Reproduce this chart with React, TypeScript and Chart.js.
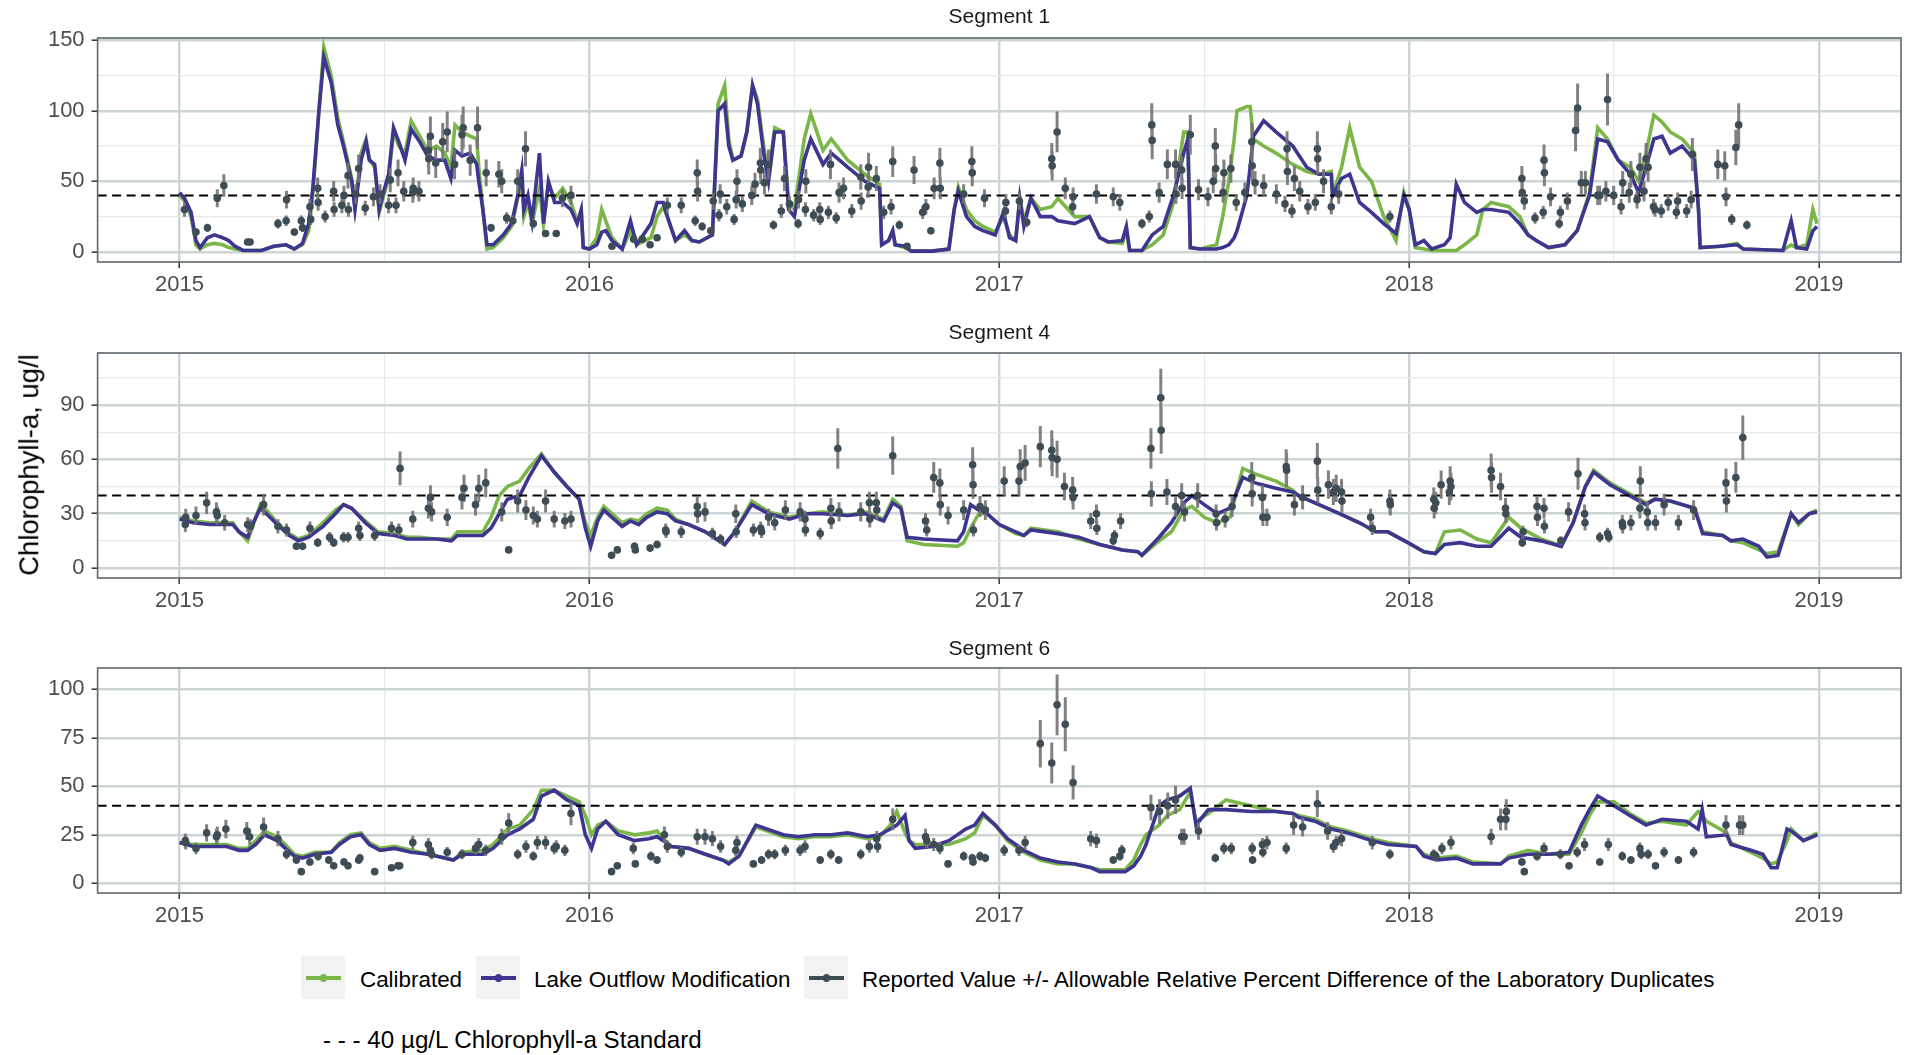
import React, { useEffect, useRef } from "react";
import { Chart, registerables } from "chart.js";

Chart.register(...registerables);

const FONT = "'Liberation Sans', Arial, Helvetica, sans-serif";
const GREEN = "#7ab648";
const PURPLE = "#3d3590";
const SLATE = "#3e4c55";
const ERRCOL = "rgba(115,115,115,0.9)";
const X_MIN = 2014.8;
const X_MAX = 2019.2;
const STANDARD = 40;
const RPD = 0.17; // allowable relative percent difference of lab duplicates

const xTicks = [2015, 2015.5, 2016, 2016.5, 2017, 2017.5, 2018, 2018.5, 2019];

// ---------------- Segment 1 ----------------
const seg1Time = [2015.000,2015.012,2015.028,2015.040,2015.050,2015.068,2015.085,2015.105,2015.120,2015.135,2015.155,2015.200,2015.230,2015.260,2015.280,2015.300,2015.315,2015.325,2015.340,2015.352,2015.370,2015.386,2015.400,2015.420,2015.428,2015.443,2015.455,2015.463,2015.476,2015.487,2015.500,2015.510,2015.522,2015.535,2015.550,2015.565,2015.586,2015.605,2015.627,2015.647,2015.662,2015.672,2015.689,2015.709,2015.725,2015.730,2015.740,2015.750,2015.765,2015.790,2015.810,2015.825,2015.835,2015.840,2015.850,2015.860,2015.878,2015.888,2015.900,2015.915,2015.935,2015.955,2015.970,2015.980,2015.985,2016.000,2016.018,2016.030,2016.040,2016.055,2016.080,2016.100,2016.115,2016.150,2016.165,2016.180,2016.190,2016.210,2016.232,2016.250,2016.268,2016.300,2016.314,2016.330,2016.340,2016.350,2016.370,2016.384,2016.398,2016.410,2016.425,2016.437,2016.452,2016.473,2016.486,2016.500,2016.524,2016.540,2016.570,2016.590,2016.630,2016.672,2016.708,2016.713,2016.730,2016.740,2016.746,2016.770,2016.785,2016.836,2016.877,2016.890,2016.900,2016.920,2016.940,2016.960,2016.990,2017.010,2017.025,2017.040,2017.050,2017.060,2017.077,2017.100,2017.128,2017.143,2017.184,2017.220,2017.245,2017.266,2017.300,2017.310,2017.318,2017.348,2017.373,2017.400,2017.425,2017.450,2017.460,2017.466,2017.490,2017.530,2017.545,2017.560,2017.573,2017.580,2017.604,2017.612,2017.620,2017.645,2017.675,2017.716,2017.750,2017.780,2017.810,2017.813,2017.835,2017.855,2017.879,2017.908,2017.938,2017.968,2017.987,2018.000,2018.015,2018.036,2018.055,2018.086,2018.100,2018.115,2018.135,2018.165,2018.180,2018.200,2018.243,2018.270,2018.290,2018.310,2018.340,2018.380,2018.410,2018.440,2018.460,2018.484,2018.510,2018.540,2018.560,2018.578,2018.597,2018.617,2018.637,2018.666,2018.696,2018.706,2018.710,2018.760,2018.800,2018.815,2018.912,2018.932,2018.945,2018.970,2018.985,2018.995];
const seg1Modified = [42,38,28,8,3,10,12,10,8,4,1,1,4,5,2,6,20,45,100,138,120,90,75,50,30,65,78,65,62,30,45,55,88,78,65,87,78,68,65,65,52,72,68,70,62,50,30,5,5,12,20,40,58,30,40,22,70,20,50,35,35,30,20,30,3,2,5,14,15,8,2,22,5,20,35,35,25,8,15,8,7,12,100,105,75,65,68,85,118,105,70,50,85,85,30,25,65,80,62,70,60,50,45,5,8,15,5,4,0.5,0.5,2,30,43,25,18,15,12,28,10,8,38,18,38,25,25,22,20,25,10,7,8,18,1,1,12,18,40,70,80,3,2,2,3,5,10,15,40,60,82,93,85,75,60,55,55,40,52,55,35,28,20,13,40,30,5,8,2,5,10,48,35,28,30,30,28,20,12,8,3,5,15,40,80,78,65,55,42,60,80,82,70,75,65,30,3,4,5,2,1,22,3,2,15,18];
const seg1Calibrated = [40,36,25,5,2,5,6,5,3,2,1,1,4,5,2,5,15,40,100,145,125,95,78,52,32,70,80,66,60,28,42,52,85,75,70,93,82,72,75,70,60,90,85,82,80,60,30,2,3,10,18,38,50,25,35,20,45,20,48,38,45,35,22,28,3,2,10,30,22,10,2,15,5,10,25,32,25,8,12,8,7,12,105,118,80,65,68,85,118,108,75,55,88,85,35,30,80,98,72,80,65,55,48,5,8,15,5,3,0.5,0.5,2,30,46,30,22,18,14,25,12,8,38,22,38,30,32,38,25,25,10,7,6,15,1,1,5,12,35,85,85,3,2,5,25,50,80,100,103,103,80,75,70,62,57,55,57,40,60,88,60,50,25,8,42,30,3,2,1,1,1,1,5,12,30,35,32,25,12,8,3,5,15,42,88,80,65,60,50,70,97,92,85,80,70,30,3,4,6,2,1,5,3,5,30,20];
const seg1ObsTime = [2015.012,2015.040,2015.068,2015.092,2015.108,2015.166,2015.172,2015.240,2015.260,2015.261,2015.280,2015.297,2015.300,2015.318,2015.320,2015.337,2015.338,2015.355,2015.376,2015.377,2015.396,2015.401,2015.411,2015.412,2015.430,2015.437,2015.453,2015.473,2015.489,2015.510,2015.514,2015.528,2015.533,2015.547,2015.569,2015.570,2015.584,2015.607,2015.608,2015.612,2015.625,2015.642,2015.653,2015.671,2015.689,2015.692,2015.709,2015.727,2015.748,2015.760,2015.779,2015.786,2015.798,2015.813,2015.825,2015.844,2015.863,2015.893,2015.919,2015.934,2015.955,2016.055,2016.108,2016.129,2016.148,2016.165,2016.190,2016.224,2016.258,2016.263,2016.264,2016.275,2016.296,2016.302,2016.316,2016.319,2016.335,2016.353,2016.358,2016.360,2016.373,2016.396,2016.404,2016.417,2016.418,2016.427,2016.437,2016.449,2016.468,2016.476,2016.488,2016.509,2016.510,2016.527,2016.528,2016.547,2016.562,2016.563,2016.583,2016.588,2016.602,2016.609,2016.620,2016.640,2016.662,2016.663,2016.680,2016.681,2016.700,2016.718,2016.736,2016.740,2016.756,2016.775,2016.792,2016.813,2016.821,2016.833,2016.841,2016.855,2016.856,2016.913,2016.933,2016.934,2016.964,2017.015,2017.016,2017.049,2017.067,2017.128,2017.129,2017.141,2017.161,2017.179,2017.180,2017.237,2017.278,2017.294,2017.348,2017.366,2017.372,2017.373,2017.390,2017.410,2017.430,2017.431,2017.445,2017.446,2017.466,2017.486,2017.509,2017.522,2017.527,2017.528,2017.546,2017.548,2017.565,2017.578,2017.599,2017.616,2017.617,2017.624,2017.645,2017.676,2017.697,2017.702,2017.703,2017.714,2017.720,2017.733,2017.753,2017.771,2017.776,2017.777,2017.791,2017.810,2017.828,2017.953,2018.275,2018.276,2018.281,2018.307,2018.327,2018.329,2018.330,2018.345,2018.366,2018.369,2018.386,2018.406,2018.411,2018.420,2018.430,2018.460,2018.465,2018.480,2018.484,2018.499,2018.517,2018.521,2018.537,2018.541,2018.556,2018.563,2018.573,2018.578,2018.583,2018.596,2018.600,2018.615,2018.632,2018.652,2018.655,2018.677,2018.688,2018.691,2018.753,2018.770,2018.773,2018.787,2018.797,2018.804,2018.824];
const seg1ObsValue = [30,14,17,38,47,7,7,20,22,37,14,22,17,32,23,45,35,25,43,30,33,40,54,30,41,59,31,39,41,33,51,33,56,43,42,45,43,72,66,82,63,78,85,62,83,88,65,88,56,17,55,50,24,22,50,73,20,13,13,38,40,4,9,9,5,10,33,33,22,56,43,18,15,36,26,41,32,23,37,50,34,40,48,63,58,49,62,19,29,52,34,20,37,30,50,26,30,23,28,62,24,42,45,29,53,36,46,60,52,28,32,64,19,4,58,28,32,15,45,63,45,41,64,56,38,29,35,36,21,66,61,85,45,32,39,41,39,35,20,25,90,79,42,62,62,41,58,45,83,44,39,50,75,59,42,56,59,35,42,78,61,49,47,41,34,73,57,29,52,43,32,35,73,66,50,32,41,25,52,42,36,24,28,65,56,39,20,28,36,86,102,49,49,40,40,43,108,40,32,49,42,55,37,60,43,66,60,32,30,29,35,28,36,29,37,69,62,61,39,23,74,90,19];

// ---------------- Segment 4 ----------------
const seg4Time = [2015.000,2015.033,2015.074,2015.115,2015.130,2015.145,2015.166,2015.180,2015.197,2015.212,2015.238,2015.268,2015.290,2015.315,2015.350,2015.380,2015.400,2015.420,2015.453,2015.484,2015.525,2015.555,2015.586,2015.627,2015.663,2015.678,2015.740,2015.760,2015.780,2015.800,2015.830,2015.852,2015.883,2015.914,2015.945,2015.975,2015.990,2016.003,2016.020,2016.035,2016.055,2016.080,2016.100,2016.120,2016.140,2016.165,2016.190,2016.210,2016.242,2016.283,2016.330,2016.355,2016.396,2016.437,2016.488,2016.530,2016.570,2016.630,2016.672,2016.718,2016.740,2016.760,2016.775,2016.816,2016.898,2016.913,2016.930,2016.950,2016.970,2017.000,2017.040,2017.060,2017.077,2017.143,2017.194,2017.245,2017.300,2017.338,2017.348,2017.390,2017.420,2017.450,2017.470,2017.500,2017.532,2017.563,2017.594,2017.624,2017.675,2017.716,2017.730,2017.770,2017.830,2017.879,2017.918,2017.948,2017.997,2018.036,2018.064,2018.086,2018.125,2018.165,2018.200,2018.243,2018.273,2018.322,2018.371,2018.400,2018.430,2018.450,2018.490,2018.538,2018.578,2018.600,2018.637,2018.696,2018.716,2018.765,2018.785,2018.814,2018.853,2018.873,2018.900,2018.932,2018.950,2018.976,2018.995];
const seg4Modified = [27,25,24,24,24,20,17,25,33,30,24,18,15,17,23,30,35,33,25,19,18,16,16,16,15,18,18,22,30,38,40,50,62,53,45,38,22,12,26,32,28,23,26,24,28,31,30,26,24,20,13,20,35,30,27,30,30,29,30,26,36,33,17,16,15,20,35,32,30,24,20,18,21,19,17,13,10,9,7,17,25,36,40,35,30,33,50,47,44,42,40,36,30,25,20,20,14,9,8,13,14,12,12,22,17,15,12,25,45,53,46,40,35,38,37,33,19,18,15,16,12,6,7,30,25,30,31];
const seg4Calibrated = [28,26,25,25,25,20,15,24,35,32,25,19,16,18,25,32,35,33,26,20,19,17,17,16,16,20,20,28,40,45,48,55,63,53,45,38,25,18,28,34,30,25,27,26,30,33,32,27,24,20,13,20,37,31,28,30,31,29,31,27,38,34,15,13,12,14,22,30,30,24,19,18,22,20,16,13,10,9,7,15,20,32,34,28,25,28,55,52,48,43,40,36,30,25,20,20,14,9,8,20,21,16,14,28,22,16,12,25,45,54,47,41,36,38,37,33,20,18,15,14,10,8,9,30,24,30,32];
const seg4ObsTime = [2015.014,2015.015,2015.040,2015.066,2015.090,2015.092,2015.110,2015.166,2015.173,2015.205,2015.240,2015.261,2015.285,2015.300,2015.318,2015.337,2015.366,2015.376,2015.400,2015.411,2015.437,2015.440,2015.476,2015.517,2015.535,2015.538,2015.569,2015.607,2015.612,2015.615,2015.653,2015.689,2015.694,2015.722,2015.730,2015.747,2015.786,2015.803,2015.825,2015.845,2015.863,2015.873,2015.893,2015.914,2015.940,2015.955,2016.054,2016.068,2016.110,2016.112,2016.148,2016.165,2016.186,2016.187,2016.224,2016.263,2016.264,2016.282,2016.300,2016.320,2016.357,2016.358,2016.400,2016.418,2016.420,2016.437,2016.452,2016.478,2016.514,2016.526,2016.527,2016.563,2016.589,2016.590,2016.606,2016.609,2016.662,2016.683,2016.684,2016.700,2016.701,2016.740,2016.820,2016.823,2016.840,2016.855,2016.856,2016.875,2016.913,2016.935,2016.936,2016.937,2016.953,2016.966,2017.012,2017.048,2017.051,2017.063,2017.100,2017.128,2017.129,2017.141,2017.159,2017.179,2017.180,2017.223,2017.237,2017.238,2017.278,2017.281,2017.296,2017.370,2017.371,2017.394,2017.395,2017.409,2017.430,2017.445,2017.452,2017.484,2017.529,2017.530,2017.551,2017.568,2017.616,2017.617,2017.642,2017.643,2017.653,2017.700,2017.701,2017.720,2017.740,2017.776,2017.777,2017.803,2017.815,2017.822,2017.835,2017.836,2017.906,2017.910,2017.953,2017.954,2018.060,2018.061,2018.065,2018.078,2018.098,2018.100,2018.102,2018.200,2018.201,2018.223,2018.235,2018.236,2018.276,2018.278,2018.312,2018.313,2018.329,2018.330,2018.370,2018.389,2018.412,2018.428,2018.429,2018.465,2018.484,2018.487,2018.520,2018.521,2018.541,2018.563,2018.564,2018.581,2018.582,2018.601,2018.622,2018.657,2018.694,2018.773,2018.774,2018.797,2018.814];
const seg4ObsValue = [24,28,29,36,31,29,25,24,23,35,23,21,12,12,22,14,17,14,17,17,22,18,18,22,21,55,27,33,39,31,28,39,44,35,44,47,31,10,37,32,29,27,37,27,26,27,7,10,12,10,11,13,21,20,20,34,30,31,19,16,30,20,21,22,20,28,25,32,31,27,21,19,33,26,66,31,31,36,27,36,32,62,26,21,50,47,35,29,32,57,46,21,34,32,48,48,56,58,67,65,61,60,45,43,39,26,30,22,15,18,26,66,41,94,76,42,34,40,31,40,30,25,27,34,50,41,39,28,28,56,54,35,39,59,43,46,42,44,42,37,28,22,37,35,38,33,36,46,42,48,45,54,50,45,33,30,14,20,34,28,33,23,15,31,52,30,25,17,19,17,25,23,25,33,48,31,25,25,35,25,32,47,37,50,72];

// ---------------- Segment 6 ----------------
const seg6Time = [2015.000,2015.033,2015.074,2015.115,2015.145,2015.166,2015.186,2015.207,2015.238,2015.258,2015.280,2015.300,2015.330,2015.370,2015.390,2015.417,2015.443,2015.463,2015.489,2015.525,2015.565,2015.607,2015.647,2015.668,2015.689,2015.740,2015.765,2015.800,2015.830,2015.863,2015.883,2015.914,2015.945,2015.975,2015.990,2016.005,2016.020,2016.040,2016.070,2016.110,2016.145,2016.165,2016.180,2016.200,2016.242,2016.283,2016.325,2016.340,2016.365,2016.406,2016.447,2016.473,2016.510,2016.550,2016.590,2016.630,2016.678,2016.708,2016.734,2016.750,2016.770,2016.780,2016.795,2016.836,2016.877,2016.918,2016.940,2016.960,2016.990,2017.020,2017.060,2017.100,2017.143,2017.184,2017.225,2017.245,2017.307,2017.328,2017.345,2017.358,2017.390,2017.410,2017.440,2017.466,2017.480,2017.510,2017.553,2017.614,2017.675,2017.716,2017.730,2017.770,2017.810,2017.850,2017.908,2017.948,2018.017,2018.036,2018.066,2018.115,2018.155,2018.223,2018.243,2018.290,2018.340,2018.390,2018.420,2018.440,2018.460,2018.500,2018.538,2018.578,2018.617,2018.676,2018.705,2018.715,2018.725,2018.775,2018.785,2018.834,2018.863,2018.883,2018.898,2018.922,2018.932,2018.962,2018.996];
const seg6Modified = [21,19,19,19,17,17,20,25,22,18,14,13,15,16,20,24,25,20,17,18,16,15,13,12,15,15,18,25,28,33,45,48,43,40,25,18,28,32,25,22,23,24,22,19,18,15,12,10,14,30,27,25,24,25,25,26,24,25,28,30,35,22,18,19,22,28,30,36,30,23,17,13,11,10,8,6,6,9,14,20,40,43,45,49,30,38,38,37,37,36,34,32,28,26,22,20,19,14,12,13,10,10,13,15,15,16,30,38,45,40,35,30,33,32,28,38,24,25,20,17,15,8,8,28,27,22,25];
const seg6Calibrated = [21,20,20,20,18,18,22,27,24,20,15,14,16,16,21,25,26,21,18,19,17,15,13,12,16,17,20,28,30,38,48,48,45,42,35,25,30,32,27,25,26,27,23,19,18,15,12,11,14,29,26,24,23,24,24,25,23,24,30,37,26,22,20,20,20,23,26,35,30,22,16,12,10,10,8,7,7,12,20,25,30,35,38,47,32,36,43,40,37,36,35,33,29,27,23,21,19,15,13,14,11,10,14,17,15,15,26,35,42,42,36,31,32,30,37,35,32,26,21,16,13,10,11,22,28,22,26];
const seg6ObsTime = [2015.014,2015.015,2015.040,2015.066,2015.090,2015.092,2015.113,2015.164,2015.171,2015.205,2015.240,2015.261,2015.285,2015.297,2015.318,2015.338,2015.364,2015.376,2015.401,2015.411,2015.437,2015.440,2015.476,2015.517,2015.533,2015.537,2015.569,2015.607,2015.612,2015.615,2015.653,2015.689,2015.722,2015.730,2015.747,2015.786,2015.803,2015.825,2015.845,2015.863,2015.873,2015.893,2015.914,2015.919,2015.940,2015.955,2016.054,2016.068,2016.107,2016.112,2016.150,2016.165,2016.183,2016.190,2016.224,2016.263,2016.282,2016.300,2016.320,2016.357,2016.360,2016.400,2016.420,2016.437,2016.452,2016.478,2016.514,2016.526,2016.563,2016.589,2016.608,2016.662,2016.683,2016.701,2016.703,2016.740,2016.820,2016.823,2016.840,2016.855,2016.875,2016.913,2016.934,2016.936,2016.953,2016.966,2017.012,2017.048,2017.063,2017.100,2017.128,2017.141,2017.161,2017.180,2017.223,2017.237,2017.278,2017.294,2017.299,2017.370,2017.391,2017.411,2017.430,2017.445,2017.451,2017.486,2017.527,2017.548,2017.566,2017.617,2017.618,2017.642,2017.643,2017.653,2017.700,2017.718,2017.740,2017.776,2017.801,2017.815,2017.822,2017.835,2017.910,2017.953,2018.060,2018.065,2018.080,2018.102,2018.200,2018.223,2018.236,2018.237,2018.275,2018.281,2018.312,2018.329,2018.369,2018.390,2018.410,2018.428,2018.465,2018.486,2018.520,2018.541,2018.563,2018.566,2018.583,2018.601,2018.622,2018.657,2018.694,2018.773,2018.806,2018.814];
const seg6ObsValue = [22,21,18,26,24,25,28,27,24,29,23,15,12,6,11,14,12,9,11,9,12,13,6,8,9,9,21,20,17,15,16,15,18,20,17,24,31,15,19,14,21,21,18,19,17,36,6,9,18,10,14,12,25,19,16,24,24,23,19,17,21,10,12,15,15,17,17,19,12,15,12,15,19,23,19,33,24,22,20,18,10,14,13,11,14,13,17,17,21,72,62,92,82,52,23,22,12,14,17,39,37,40,43,24,24,27,13,18,18,18,12,20,16,21,18,30,29,41,27,19,21,23,21,15,15,14,18,21,24,33,33,37,11,6,14,18,15,9,16,20,11,20,14,12,18,15,15,9,16,12,16,30,30,30];

type PanelProps = {
  title: string;
  top: number;
  height: number;
  chartTop: number;
  chartBottom: number;
  titleCenter: number;
  time: number[];
  calibrated: number[];
  modified: number[];
  obsTime: number[];
  obsValue: number[];
  yMin: number;
  yMax: number;
  yMinorStep: number;
  yMajorStep: number;
  yTopTick: number;
};

const panelDecor = {
  id: "panelDecor",
  afterDraw(chart: any, _args: any, opts: any) {
    const { ctx, chartArea } = chart;
    ctx.save();
    ctx.strokeStyle = "#5d676d";
    ctx.lineWidth = 1.6;
    ctx.strokeRect(chartArea.left, chartArea.top, chartArea.right - chartArea.left, chartArea.bottom - chartArea.top);
    if (opts && opts.text) {
      ctx.fillStyle = "#1a1a1a";
      ctx.font = `21px ${FONT}`;
      ctx.textAlign = "center";
      ctx.textBaseline = "middle";
      ctx.fillText(opts.text, (chartArea.left + chartArea.right) / 2, opts.y);
    }
    ctx.restore();
  },
};

function Panel(p: PanelProps) {
  const ref = useRef<HTMLCanvasElement | null>(null);
  useEffect(() => {
    if (!ref.current) return;
    const relCenter = p.titleCenter - p.top;
    const relChartTop = p.chartTop - p.top;
    const xAxisHeight = p.top + p.height - p.chartBottom;

    const yTicks: number[] = [];
    for (let v = 0; v <= p.yTopTick + 1e-9; v += p.yMinorStep) yTicks.push(Math.round(v * 100) / 100);
    const isMajorY = (v: number) => Math.abs(v / p.yMajorStep - Math.round(v / p.yMajorStep)) < 1e-6;
    const isMajorX = (v: number) => Math.abs(v - Math.round(v)) < 1e-6;

    const errData: any[] = [];
    p.obsTime.forEach((t, i) => {
      const v = p.obsValue[i];
      errData.push({ x: t, y: v * (1 - RPD) });
      errData.push({ x: t, y: v * (1 + RPD) });
      errData.push({ x: t, y: null });
    });

    const chart = new Chart(ref.current, {
      type: "line",
      data: {
        datasets: [
          {
            label: "Reported Value",
            data: p.obsTime.map((t, i) => ({ x: t, y: p.obsValue[i] })),
            showLine: false,
            pointRadius: 3.8,
            pointBorderWidth: 0,
            pointBackgroundColor: SLATE,
            borderColor: SLATE,
            order: 0,
          },
          {
            label: "Error",
            data: errData,
            borderColor: ERRCOL,
            borderWidth: 3,
            pointRadius: 0,
            spanGaps: false,
            order: 1,
          },
          {
            label: "Standard",
            data: [
              { x: X_MIN, y: STANDARD },
              { x: X_MAX, y: STANDARD },
            ],
            borderColor: "#000000",
            borderWidth: 2,
            borderDash: [9, 5.5],
            pointRadius: 0,
            order: 2,
          },
          {
            label: "Lake Outflow Modification",
            data: p.time.map((t, i) => ({ x: t, y: p.modified[i] })),
            borderColor: PURPLE,
            borderWidth: 3.6,
            pointRadius: 0,
            tension: 0,
            order: 3,
          },
          {
            label: "Calibrated",
            data: p.time.map((t, i) => ({ x: t, y: p.calibrated[i] })),
            borderColor: GREEN,
            borderWidth: 3.6,
            pointRadius: 0,
            tension: 0,
            order: 4,
          },
        ],
      },
      options: {
        animation: false,
        responsive: false,
        maintainAspectRatio: false,
        events: [],
        layout: { padding: { top: relChartTop, left: 0, right: 1, bottom: 0 } },
        plugins: {
          legend: { display: false },
          tooltip: { enabled: false },
          title: { display: false },
          panelDecor: { text: p.title, y: relCenter },
        },
        scales: {
          x: {
            type: "linear",
            min: X_MIN,
            max: X_MAX,
            afterBuildTicks: (s: any) => {
              s.ticks = xTicks.map((value) => ({ value }));
            },
            afterFit: (s: any) => {
              s.height = xAxisHeight;
              s.paddingLeft = 0;
              s.paddingRight = 0;
            },
            ticks: {
              autoSkip: false,
              maxRotation: 0,
              minRotation: 0,
              padding: 4,
              color: "#4d4d4d",
              font: { family: FONT, size: 22 },
              callback: (v: any) => (isMajorX(Number(v)) ? String(Math.round(Number(v))) : ""),
            },
            grid: {
              color: (c: any) => (c.tick && isMajorX(c.tick.value) ? "#cdd4d4" : "#e4e9e9"),
              lineWidth: (c: any) => (c.tick && isMajorX(c.tick.value) ? 2.4 : 1.2),
              tickColor: (c: any) => (c.tick && isMajorX(c.tick.value) ? "#333333" : "rgba(0,0,0,0)"),
              tickLength: 6,
              tickWidth: 1.5,
              drawTicks: true,
            },
            border: { display: false },
          },
          y: {
            type: "linear",
            min: p.yMin,
            max: p.yMax,
            afterBuildTicks: (s: any) => {
              s.ticks = yTicks.map((value) => ({ value }));
            },
            afterFit: (s: any) => {
              s.width = 97.6;
              s.paddingTop = 0;
              s.paddingBottom = 0;
            },
            ticks: {
              padding: 7,
              color: "#4d4d4d",
              font: { family: FONT, size: 22 },
              callback: (v: any) => (isMajorY(Number(v)) ? String(Math.round(Number(v))) : ""),
            },
            grid: {
              color: (c: any) => (c.tick && isMajorY(c.tick.value) ? "#cdd4d4" : "#e4e9e9"),
              lineWidth: (c: any) => (c.tick && isMajorY(c.tick.value) ? 2.4 : 1.2),
              tickColor: (c: any) => (c.tick && isMajorY(c.tick.value) ? "#333333" : "rgba(0,0,0,0)"),
              tickLength: 6,
              tickWidth: 1.5,
              drawTicks: true,
            },
            border: { display: false },
          },
        },
      },
      plugins: [panelDecor],
    } as any);
    return () => chart.destroy();
  }, []);
  return (
    <canvas
      ref={ref}
      width={1905}
      height={p.height}
      style={{ position: "absolute", left: 0, top: p.top, width: 1905, height: p.height }}
    />
  );
}

function Key({ left, color }: { left: number; color: string }) {
  return (
    <div style={{ position: "absolute", left, top: 956, width: 44, height: 43, background: "#f2f2f2" }}>
      <div style={{ position: "absolute", left: 4.5, top: 20, width: 35, height: 3.5, background: color }} />
      <div
        style={{ position: "absolute", left: 18.5, top: 18, width: 7.5, height: 7.5, borderRadius: "50%", background: color }}
      />
    </div>
  );
}

function Label({ left, top, text, size = 22.4 }: { left: number; top: number; text: string; size?: number }) {
  return (
    <div
      style={{
        position: "absolute",
        left,
        top,
        transform: "translateY(-50%)",
        fontFamily: FONT,
        fontSize: size,
        lineHeight: 1,
        color: "#000",
        whiteSpace: "nowrap",
      }}
    >
      {text}
    </div>
  );
}

export default function App() {
  return (
    <div
      style={{ position: "fixed", left: 0, top: 0, width: 1905, height: 1055, background: "#ffffff", overflow: "hidden" }}
    >
      <Panel
        title="Segment 1"
        top={0}
        height={300}
        chartTop={38}
        chartBottom={262}
        titleCenter={17}
        time={seg1Time}
        calibrated={seg1Calibrated}
        modified={seg1Modified}
        obsTime={seg1ObsTime}
        obsValue={seg1ObsValue}
        yMin={-7.2}
        yMax={151.6}
        yMinorStep={25}
        yMajorStep={50}
        yTopTick={150}
      />
      <Panel
        title="Segment 4"
        top={310}
        height={310}
        chartTop={353}
        chartBottom={578}
        titleCenter={333}
        time={seg4Time}
        calibrated={seg4Calibrated}
        modified={seg4Modified}
        obsTime={seg4ObsTime}
        obsValue={seg4ObsValue}
        yMin={-5.5}
        yMax={118.7}
        yMinorStep={15}
        yMajorStep={30}
        yTopTick={105}
      />
      <Panel
        title="Segment 6"
        top={630}
        height={300}
        chartTop={668}
        chartBottom={893}
        titleCenter={649}
        time={seg6Time}
        calibrated={seg6Calibrated}
        modified={seg6Modified}
        obsTime={seg6ObsTime}
        obsValue={seg6ObsValue}
        yMin={-5}
        yMax={111}
        yMinorStep={12.5}
        yMajorStep={25}
        yTopTick={100}
      />
      <div
        style={{
          position: "absolute",
          left: 29,
          top: 465,
          transform: "translate(-50%, -50%) rotate(-90deg)",
          fontFamily: FONT,
          fontSize: 27.5,
          color: "#000",
          whiteSpace: "nowrap",
          lineHeight: 1,
        }}
      >
        Chlorophyll-a, ug/l
      </div>
      <Key left={301} color={GREEN} />
      <Label left={360} top={980} text="Calibrated" />
      <Key left={476} color={PURPLE} />
      <Label left={534} top={980} text="Lake Outflow Modification" />
      <Key left={804} color={SLATE} />
      <Label left={862} top={980} text="Reported Value +/- Allowable Relative Percent Difference of the Laboratory Duplicates" />
      <Label left={323} top={1040} size={24.2} text="- - - 40 µg/L Chlorophyll-a Standard" />
    </div>
  );
}
